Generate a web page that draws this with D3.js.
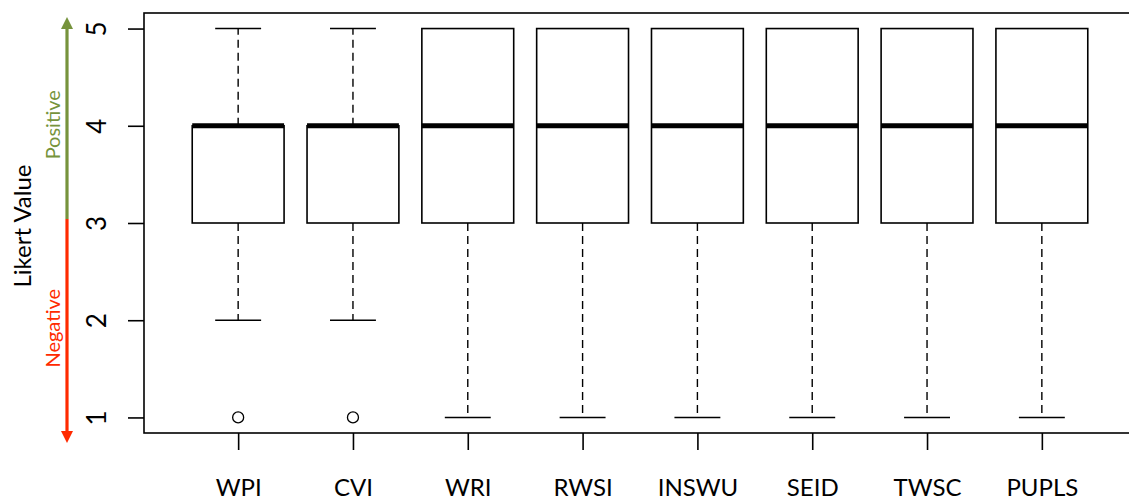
<!DOCTYPE html>
<html>
<head>
<meta charset="utf-8">
<script src="https://cdn.jsdelivr.net/npm/d3@7"></script>
<style>
  html, body { margin: 0; padding: 0; background: #fff; }
  svg { display: block; }
</style>
</head>
<body>
<svg id="chart" width="1129" height="502"></svg>
<script>
// Likert-scale summary per item
const categories = ["WPI", "CVI", "WRI", "RWSI", "INSWU", "SEID", "TWSC", "PUPLS"];
const lowerWhisker = [2, 2, 1, 1, 1, 1, 1, 1];
const q1 =           [3, 3, 3, 3, 3, 3, 3, 3];
const medians =      [4, 4, 4, 4, 4, 4, 4, 4];
const q3 =           [4, 4, 5, 5, 5, 5, 5, 5];
const upperWhisker = [5, 5, 5, 5, 5, 5, 5, 5];
const outliers =     [[1], [1], [], [], [], [], [], []];
const yTicks = [1, 2, 3, 4, 5];

const svg = d3.select("#chart");
const font = "Lato, 'Open Sans', sans-serif";

// positions 1..8, with R-style 4% padding around [0.5, 8.5] and [1, 5]
const x = d3.scaleLinear().domain([0.18, 8.82]).range([144, 1136]);
const y = d3.scaleLinear().domain([0.84, 5.16]).range([433, 13]);

const boxHalf = 0.4, capHalf = 0.2;

// plot frame
svg.append("rect")
  .attr("x", x(0.18)).attr("y", y(5.16))
  .attr("width", x(8.82) - x(0.18)).attr("height", y(0.84) - y(5.16))
  .attr("fill", "none").attr("stroke", "#000").attr("stroke-width", 1.6);

// y axis
const yAxis = d3.axisLeft(y).tickValues(yTicks).tickSize(16).tickPadding(0).tickFormat(d3.format("d"));
const gy = svg.append("g").attr("transform", `translate(${x(0.18)},0)`).call(yAxis);
gy.select(".domain").remove();
gy.selectAll(".tick line").attr("stroke", "#000").attr("stroke-width", 1.6);
gy.selectAll(".tick text").remove();
gy.selectAll(".tick").append("text")
  .attr("transform", "translate(-47,0) rotate(-90)")
  .attr("text-anchor", "middle").attr("dy", "0.36em")
  .attr("fill", "#000").style("font-family", font).style("font-size", "26px")
  .text(d => d);

// x axis
const xAxis = d3.axisBottom(x).tickValues(d3.range(1, categories.length + 1)).tickSize(17)
  .tickFormat(i => categories[i - 1]).tickPadding(0);
const gx = svg.append("g").attr("transform", `translate(0,${y(0.84)})`).call(xAxis);
gx.select(".domain").remove();
gx.selectAll(".tick line").attr("stroke", "#000").attr("stroke-width", 1.6);
gx.selectAll(".tick text").attr("y", 63).attr("dy", 0)
  .attr("fill", "#000").style("font-family", font).style("font-size", "24px");

// boxes
const idx = d3.range(categories.length);
const g = svg.append("g");
idx.forEach(i => {
  const c = i + 1;
  // whiskers
  [[q3[i], upperWhisker[i]], [q1[i], lowerWhisker[i]]].forEach(([a, b]) => {
    if (a === b) return;
    g.append("line").attr("x1", x(c)).attr("x2", x(c)).attr("y1", y(a)).attr("y2", y(b))
      .attr("stroke", "#000").attr("stroke-width", 1.4).attr("stroke-dasharray", "8,5");
    g.append("line").attr("x1", x(c - capHalf)).attr("x2", x(c + capHalf)).attr("y1", y(b)).attr("y2", y(b))
      .attr("stroke", "#000").attr("stroke-width", 1.6);
  });
  g.append("rect")
    .attr("x", x(c - boxHalf)).attr("y", y(q3[i]))
    .attr("width", x(c + boxHalf) - x(c - boxHalf)).attr("height", y(q1[i]) - y(q3[i]))
    .attr("fill", "#fff").attr("stroke", "#000").attr("stroke-width", 1.6);
  g.append("line").attr("x1", x(c - boxHalf)).attr("x2", x(c + boxHalf))
    .attr("y1", y(medians[i])).attr("y2", y(medians[i]))
    .attr("stroke", "#000").attr("stroke-width", 5);
  outliers[i].forEach(v => {
    g.append("circle").attr("cx", x(c)).attr("cy", y(v)).attr("r", 5.5)
      .attr("fill", "none").attr("stroke", "#000").attr("stroke-width", 1.3);
  });
});

// y axis title
svg.append("text")
  .attr("transform", `translate(31,${(y(1) + y(5)) / 2 + 3}) rotate(-90)`)
  .attr("text-anchor", "middle")
  .style("font-family", font).style("font-size", "24px").attr("fill", "#000")
  .text("Likert Value");

// positive / negative direction arrow
const green = "#76933c", red = "#ff2a00";
const ax = 67, split = y(3) - 4;
svg.append("line").attr("x1", ax).attr("x2", ax).attr("y1", 26).attr("y2", split)
  .attr("stroke", green).attr("stroke-width", 3.2);
svg.append("path").attr("d", `M${ax - 6},29 L${ax},17 L${ax + 6},29 Z`).attr("fill", green);
svg.append("line").attr("x1", ax).attr("x2", ax).attr("y1", split).attr("y2", 434)
  .attr("stroke", red).attr("stroke-width", 3.2);
svg.append("path").attr("d", `M${ax - 6},431 L${ax},443 L${ax + 6},431 Z`).attr("fill", red);

svg.append("text")
  .attr("transform", `translate(60,${y(4) - 1}) rotate(-90)`)
  .attr("text-anchor", "middle")
  .style("font-family", font).style("font-size", "20px").attr("fill", green)
  .text("Positive");
svg.append("text")
  .attr("transform", `translate(60,${y(2) + 8}) rotate(-90)`)
  .attr("text-anchor", "middle")
  .style("font-family", font).style("font-size", "20px").attr("fill", red)
  .text("Negative");
</script>
</body>
</html>
